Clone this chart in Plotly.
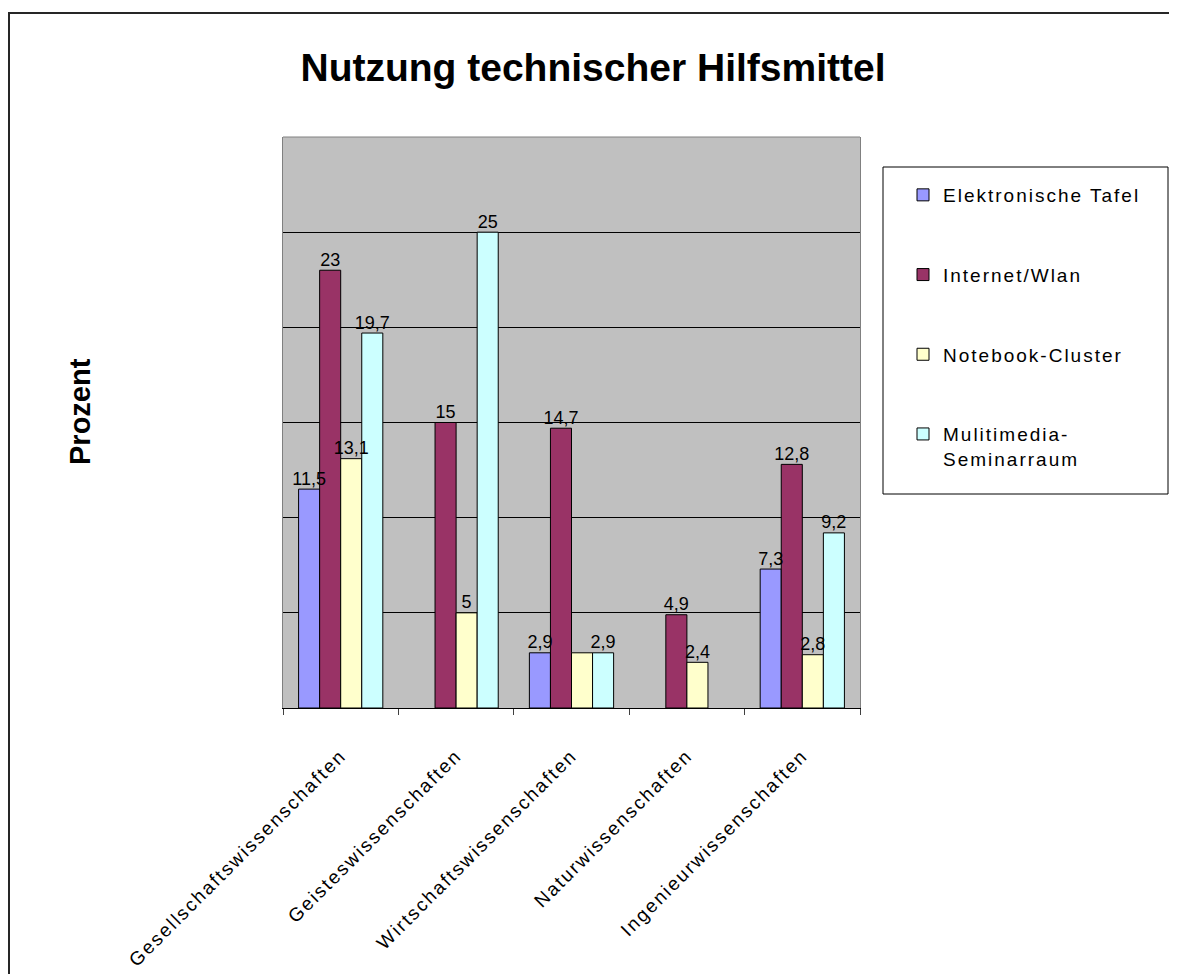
import plotly.graph_objects as go

categories = ["Gesellschaftswissenschaften", "Geisteswissenschaften",
              "Wirtschaftswissenschaften", "Naturwissenschaften",
              "Ingenieurwissenschaften"]
series_names = ["Elektronische Tafel", "Internet/Wlan", "Notebook-Cluster",
                "Mulitimedia-Seminarraum"]
elektronische_tafel = [11.5, None, 2.9, None, 7.3]
internet_wlan = [23, 15, 14.7, 4.9, 12.8]
notebook_cluster = [13.1, 5, 2.9, 2.4, 2.8]
multimedia_seminarraum = [19.7, 25, 2.9, None, 9.2]
series_values = [elektronische_tafel, internet_wlan, notebook_cluster, multimedia_seminarraum]
# data labels as printed in the chart (one Notebook-Cluster label is not shown)
elektronische_tafel_labels = ["11,5", "", "2,9", "", "7,3"]
internet_wlan_labels = ["23", "15", "14,7", "4,9", "12,8"]
notebook_cluster_labels = ["13,1", "5", "", "2,4", "2,8"]
multimedia_seminarraum_labels = ["19,7", "25", "2,9", "", "9,2"]
series_labels = [elektronische_tafel_labels, internet_wlan_labels,
                 notebook_cluster_labels, multimedia_seminarraum_labels]
legend_labels = ["Elektronische Tafel", "Internet/Wlan", "Notebook-Cluster",
                 "Mulitimedia-<br>Seminarraum"]
colors = ["#9999FF", "#993366", "#FFFFCC", "#CCFFFF"]

OFF = 8                      # page body margin of the html page
W, H = 1177 - OFF, 974 - OFF  # figure size
L, R, T, B = 283, 860, 137, 708  # plot area box in screenshot pixels
FONT = "Arial, Liberation Sans"


def px_x(p):
    return (p - L) / (R - L)


def px_y(p):
    return (B - p) / (B - T)


def spaced(s, ls=2.0):
    parts = s.split("<br>")
    return "<br>".join(f'<span style="letter-spacing:{ls}px">{p}</span>' for p in parts)


fig = go.Figure()
for i, (name, vals, col) in enumerate(zip(series_names, series_values, colors)):
    fig.add_trace(go.Bar(
        x=categories, y=vals, name=spaced(legend_labels[i]),
        marker=dict(color=col, line=dict(color="black", width=1)),
        legendgroup=f"g{i}", offsetgroup=str(i),
    ))
for i, (vals, labs) in enumerate(zip(series_values, series_labels)):
    fig.add_trace(go.Scatter(
        x=categories, y=vals, text=labs, mode="text",
        textposition="top center",
        textfont=dict(family=FONT, size=18, color="black"),
        showlegend=False, cliponaxis=False, offsetgroup=str(i),
        hoverinfo="skip",
    ))

fig.update_layout(
    width=W, height=H,
    margin=dict(l=L - OFF, r=W - (R - OFF), t=T - OFF, b=H - (B - OFF), pad=0,
                autoexpand=False),
    paper_bgcolor="white", plot_bgcolor="#C0C0C0",
    barmode="group", bargap=0.27, bargroupgap=0,
    scattermode="group", scattergap=0.27,
    font=dict(family=FONT, color="black"),
    title=dict(text="<b>Nutzung technischer Hilfsmittel</b>",
               font=dict(size=39, family=FONT, color="black"),
               x=(593 - OFF) / W, xanchor="center", xref="container",
               y=1 - (67 - OFF) / H, yanchor="middle", yref="container"),
    showlegend=True,
    legend=dict(x=px_x(903), y=px_y(176), xanchor="left", yanchor="top",
                font=dict(size=19, family=FONT, color="black"),
                bgcolor="rgba(0,0,0,0)", borderwidth=0,
                tracegroupgap=52, valign="top", itemwidth=30,
                traceorder="grouped"),
    xaxis=dict(type="category", showline=True, linecolor="black", linewidth=1,
               mirror=False, ticks="outside", ticklen=6, tickcolor="#404040",
               tickson="boundaries", showgrid=False, automargin=False,
               tickangle=-45, tickmode="array", tickvals=categories,
               ticktext=[spaced(c) for c in categories],
               tickfont=dict(size=19, family=FONT, color="black"),
               ticklabelstandoff=28),
    yaxis=dict(range=[0, 30], tickmode="array", tickvals=[5, 10, 15, 20, 25],
               showticklabels=False, ticks="", showgrid=True, gridcolor="black",
               gridwidth=1, zeroline=False, showline=True, linecolor="#808080",
               mirror=True, automargin=False),
    shapes=[
        dict(type="line", xref="paper", yref="paper", x0=0, x1=1, y0=1, y1=1,
             line=dict(color="#808080", width=1)),
        dict(type="rect", xref="paper", yref="paper",
             x0=px_x(883), x1=px_x(1168), y0=px_y(167), y1=px_y(494),
             line=dict(color="black", width=1), fillcolor="rgba(0,0,0,0)"),
        dict(type="rect", xref="paper", yref="paper",
             x0=px_x(9), x1=px_x(1177 + 20), y0=px_y(13), y1=px_y(974 + 20),
             line=dict(color="#262626", width=2), fillcolor="rgba(0,0,0,0)"),
    ],
    annotations=[
        dict(text="<b>Prozent</b>", textangle=-90, xref="paper", yref="paper",
             x=px_x(80), y=px_y(412), xanchor="center", yanchor="middle",
             showarrow=False,
             font=dict(size=29, family=FONT, color="black")),
    ],
)

fig.write_html("out.html")
